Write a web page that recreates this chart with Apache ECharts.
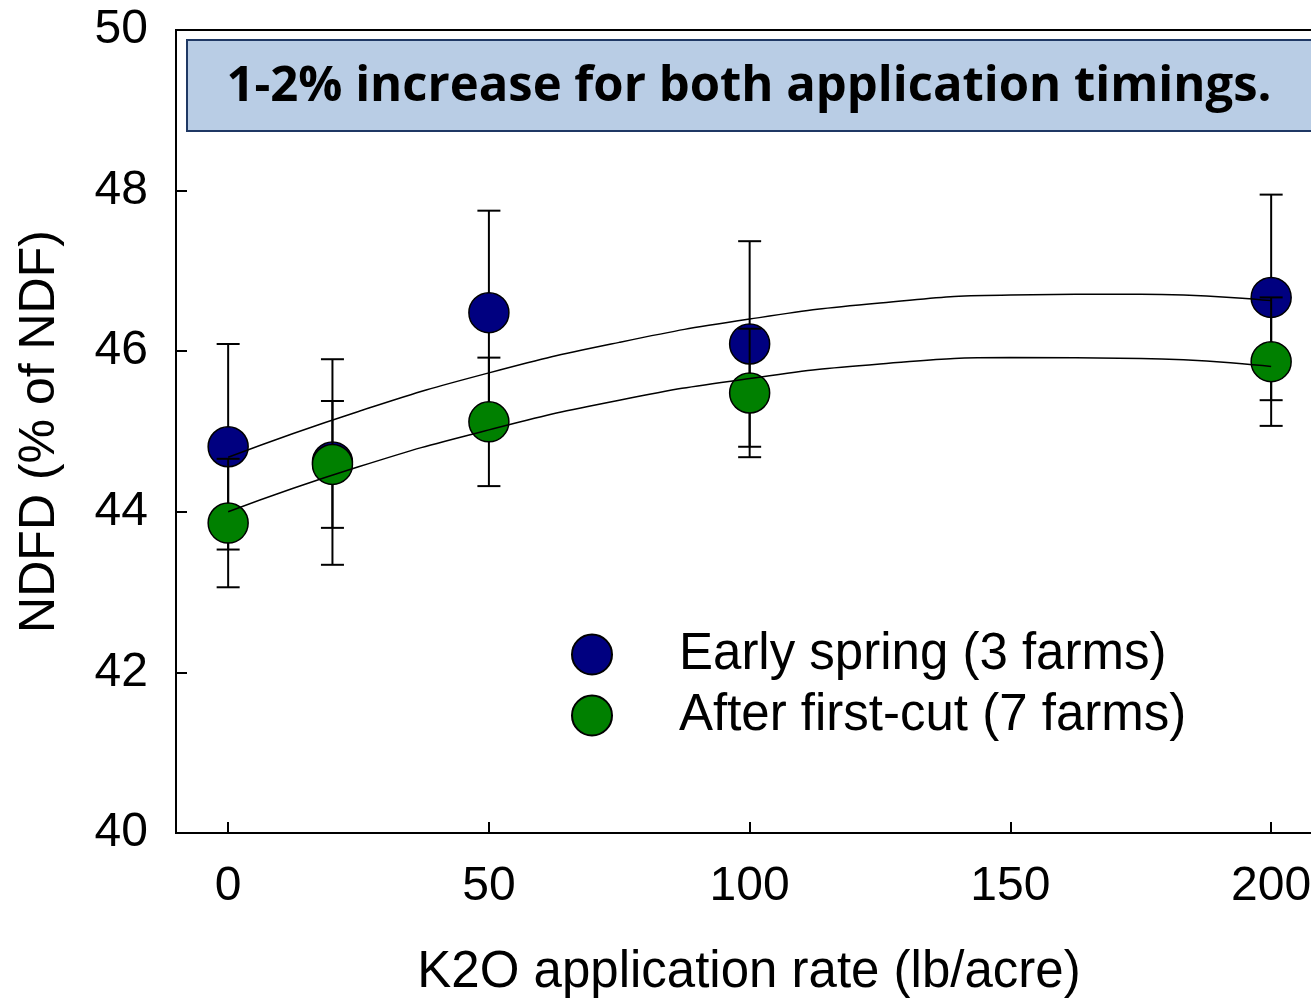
<!DOCTYPE html>
<html><head><meta charset="utf-8">
<script src="https://cdn.jsdelivr.net/npm/echarts@6/dist/echarts.min.js"></script>
<style>html,body{margin:0;padding:0;background:#fff}#c{width:1311px;height:1000px}</style>
</head><body><div id="c"></div>
<script>
const rates = [0, 20, 50, 100, 200];
const earlySpring = [44.81, 44.62, 46.48, 46.09, 46.67];
const earlySpringErr = [1.28, 1.28, 1.27, 1.28, 1.28];
const afterFirstCut = [43.86, 44.59, 45.12, 45.48, 45.87];
const afterFirstCutErr = [0.80, 0.79, 0.80, 0.80, 0.80];
const fitX = [0, 25, 50, 75, 100, 125, 150, 175, 200];
const earlySpringFit = [44.68, 45.25, 45.73, 46.11, 46.40, 46.60, 46.70, 46.71, 46.63];
const afterFirstCutFit = [44.00, 44.56, 45.02, 45.39, 45.66, 45.84, 45.92, 45.91, 45.81];
const xTicks = [0, 50, 100, 150, 200];
const seriesNames = ['Early spring (3 farms)', 'After first-cut (7 farms)'];
const annotation = '1-2% increase for both application timings.';
const xName = 'K2O application rate (lb/acre)';
const yName = 'NDFD (% of NDF)';

const FONT = '"Liberation Sans", Arial, sans-serif';
const pts = (xs, ys) => xs.map((x, i) => [x, ys[i]]);
const errPts = (xs, ys, es) => xs.map((x, i) => [x, ys[i], es[i]]);

function errRender(params, api) {
  const x = api.value(0), y = api.value(1), e = api.value(2);
  const top = api.coord([x, y + e]), bot = api.coord([x, y - e]);
  const hw = 11.5;
  const st = { stroke: '#000', lineWidth: 2 };
  return { type: 'group', children: [
    { type: 'line', shape: { x1: top[0], y1: top[1], x2: bot[0], y2: bot[1] }, style: st },
    { type: 'line', shape: { x1: top[0] - hw, y1: top[1], x2: top[0] + hw, y2: top[1] }, style: st },
    { type: 'line', shape: { x1: bot[0] - hw, y1: bot[1], x2: bot[0] + hw, y2: bot[1] }, style: st }
  ]};
}

const chart = echarts.init(document.getElementById('c'), null, { renderer: 'canvas' });
chart.setOption({
  animation: false,
  backgroundColor: '#fff',
  grid: { left: 176, top: 30, width: 1146, height: 803, outerBoundsMode: 'none', containLabel: false,
          show: true, borderColor: '#000', borderWidth: 2, backgroundColor: 'transparent' },
  xAxis: {
    type: 'value', min: -10, max: 209.75,
    splitLine: { show: false },
    axisLine: { show: true, onZero: false, lineStyle: { color: '#000', width: 2 } },
    axisTick: { show: true, inside: true, length: 11, lineStyle: { color: '#000', width: 2 }, customValues: xTicks },
    axisLabel: { show: true, margin: 30, fontSize: 48, fontFamily: FONT, color: '#000', customValues: xTicks },
    name: xName, nameLocation: 'middle', nameGap: 114,
    nameTextStyle: { fontSize: 51, fontFamily: FONT, color: '#000' }
  },
  yAxis: {
    type: 'value', min: 40, max: 50, interval: 2,
    splitLine: { show: false },
    axisLine: { show: true, onZero: false, lineStyle: { color: '#000', width: 2 } },
    axisTick: { show: true, inside: true, length: 11, lineStyle: { color: '#000', width: 2 } },
    axisLabel: { margin: 28, fontSize: 48, fontFamily: FONT, color: '#000' },
    name: yName, nameLocation: 'middle', nameGap: 111,
    nameTextStyle: { fontSize: 50, fontFamily: FONT, color: '#000' }
  },
  legend: {
    data: seriesNames, orient: 'vertical', left: 566, top: 624,
    itemWidth: 40, itemHeight: 40, itemGap: 10, icon: 'circle',
    textStyle: { fontSize: 51, fontFamily: FONT, color: '#000', padding: [0, 0, 0, 62] }
  },
  graphic: [
    { type: 'rect', z: 10, shape: { x: 187, y: 40, width: 1200, height: 91 },
      style: { fill: '#b9cde5', stroke: '#1f3864', lineWidth: 2 } },
    { type: 'text', z: 11, x: 749, y: 87,
      style: { text: annotation, fill: '#000', font: 'bold 49px "Open Sans", sans-serif', textAlign: 'center', textVerticalAlign: 'middle' } }
  ],
  series: [
    { type: 'custom', name: 'esErr', z: 2, renderItem: errRender, data: errPts(rates, earlySpring, earlySpringErr), silent: true },
    { type: 'scatter', name: seriesNames[0], z: 3, symbolSize: 40, data: pts(rates, earlySpring),
      itemStyle: { color: '#000080', borderColor: '#000', borderWidth: 1.5, opacity: 1 } },
    { type: 'custom', name: 'afcErr', z: 4, renderItem: errRender, data: errPts(rates, afterFirstCut, afterFirstCutErr), silent: true },
    { type: 'scatter', name: seriesNames[1], z: 5, symbolSize: 40, data: pts(rates, afterFirstCut),
      itemStyle: { color: '#008000', borderColor: '#000', borderWidth: 1.5, opacity: 1 } },
    { type: 'line', name: 'esFit', z: 6, smooth: 0.5, showSymbol: false, symbol: 'none', data: pts(fitX, earlySpringFit),
      lineStyle: { color: '#000', width: 1.5 }, silent: true },
    { type: 'line', name: 'afcFit', z: 6, smooth: 0.5, showSymbol: false, symbol: 'none', data: pts(fitX, afterFirstCutFit),
      lineStyle: { color: '#000', width: 1.5 }, silent: true }
  ]
});
</script>
</body></html>
